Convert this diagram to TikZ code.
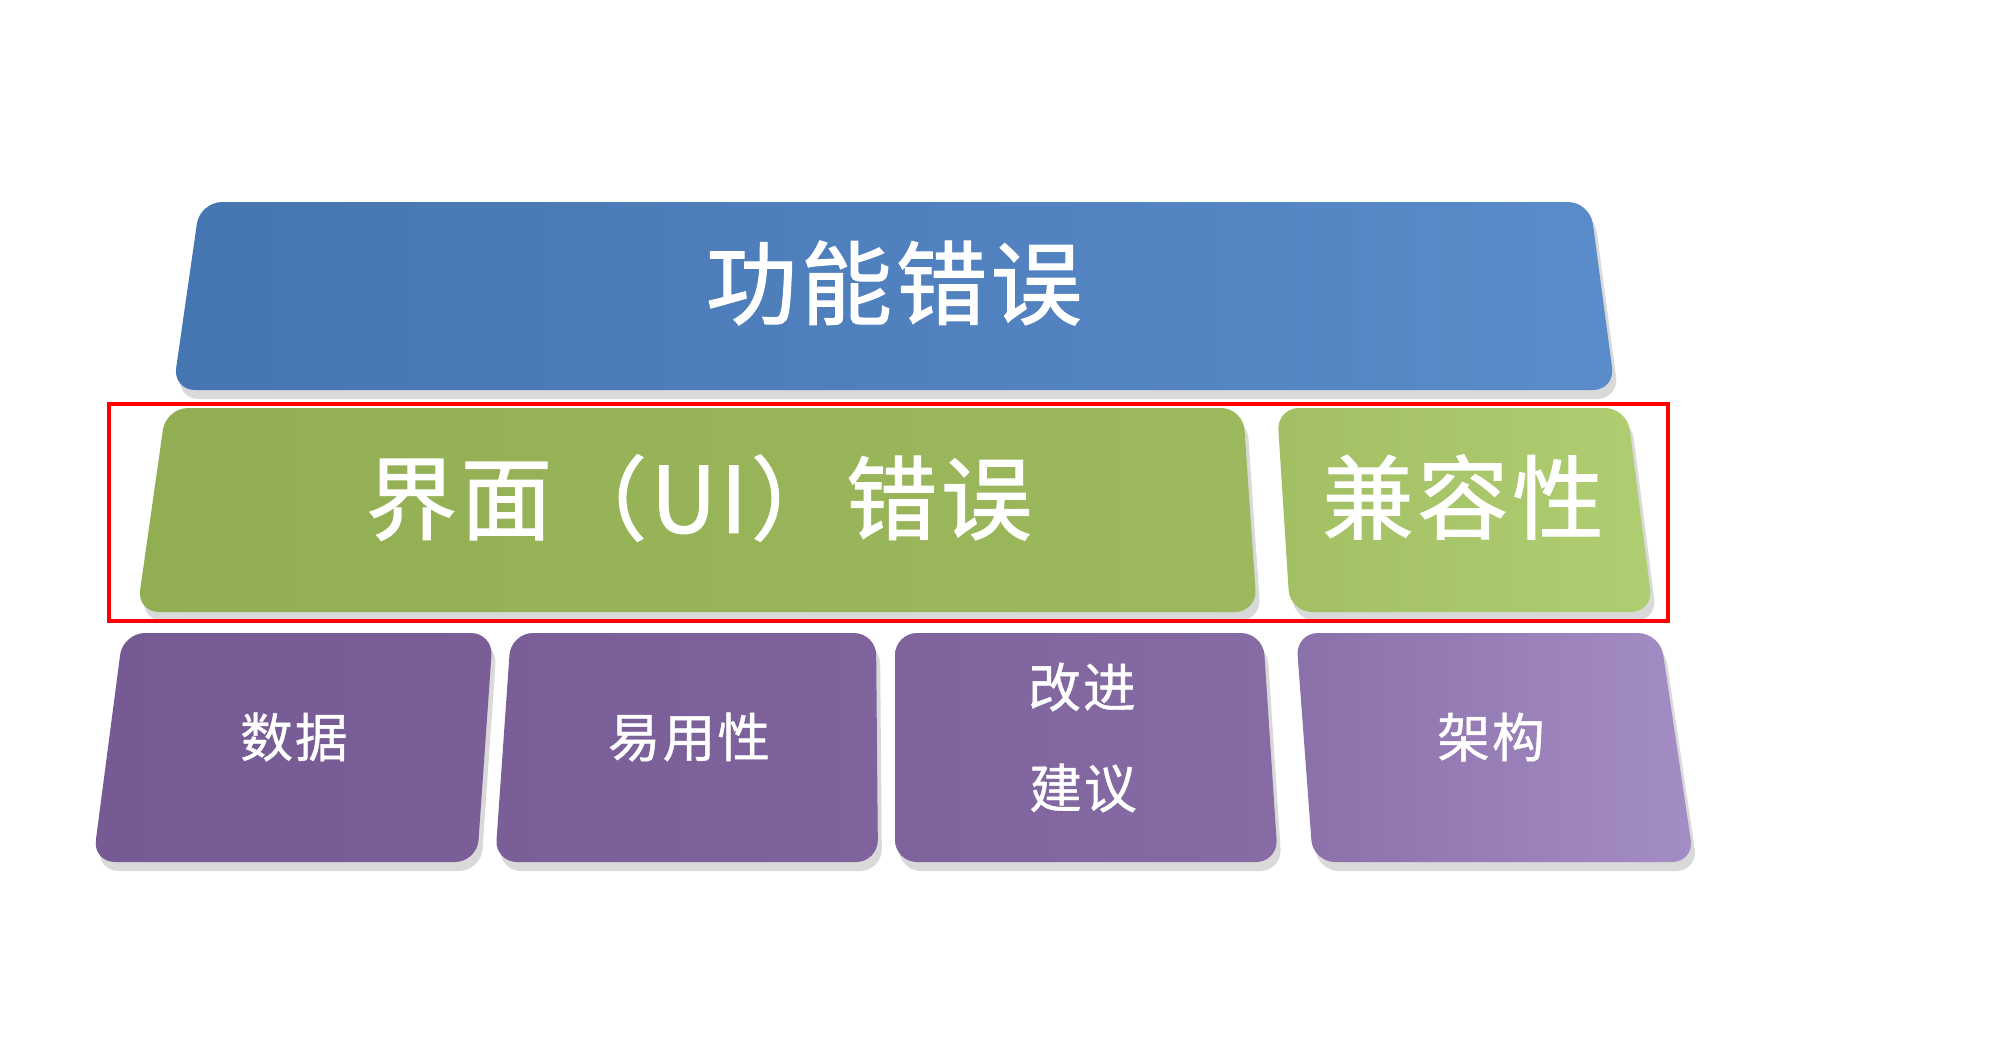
\documentclass[tikz,border=0pt]{standalone}
\usepackage{fontspec}
\setmainfont{Noto Sans CJK SC}
\usetikzlibrary{shadows}
\definecolor{blueL}{HTML}{4676B1}
\definecolor{blueR}{HTML}{5A8BCA}
\definecolor{greenL}{HTML}{92AE53}
\definecolor{greenR}{HTML}{AFCD71}
\definecolor{purpL}{HTML}{765A94}
\definecolor{purpR}{HTML}{A48CC4}

\begin{document}
\begin{tikzpicture}[slab/.style={rounded corners=2.2mm,drop shadow={opacity=0.3,shadow xshift=0.4mm,shadow yshift=-0.9mm}},
  bluebox/.style={slab,left color=blueL,right color=blueR},
  greenbox/.style={slab,left color=#1},
  purpbox/.style={slab,left color=#1},
  big/.style={text=white,font=\fontsize{26}{30}\selectfont\addfontfeatures{LetterSpace=4,FakeBold=1.2}},
  small/.style={text=white,font=\fontsize{15}{18}\selectfont\addfontfeatures{LetterSpace=4,FakeBold=0.8},align=center}]
\useasboundingbox (0,0) rectangle (20.02,-10.58);
% top layer
\path[bluebox] (2.00,-2.02)--(15.90,-2.02)--(16.15,-3.90)--(1.73,-3.90)--cycle;
% middle layer
\path[greenbox=greenL,right color=greenL!65!greenR] (1.66,-4.08)--(12.43,-4.08)--(12.57,-6.12)--(1.37,-6.12)--cycle;
\path[greenbox=greenL!45!greenR,right color=greenR] (12.77,-4.08)--(16.27,-4.08)--(16.53,-6.12)--(12.90,-6.12)--cycle;
% bottom layer
\path[purpbox=purpL,right color=purpL!92!purpR] (1.23,-6.33)--(4.93,-6.33)--(4.77,-8.62)--(0.93,-8.62)--cycle;
\path[purpbox=purpL!92!purpR,right color=purpL!82!purpR] (5.11,-6.33)--(8.76,-6.33)--(8.78,-8.62)--(4.95,-8.62)--cycle;
\path[purpbox=purpL!82!purpR,right color=purpL!65!purpR] (8.95,-6.33)--(12.63,-6.33)--(12.78,-8.62)--(8.95,-8.62)--cycle;
\path[purpbox=purpL!55!purpR,right color=purpR] (12.96,-6.33)--(16.60,-6.33)--(16.94,-8.62)--(13.13,-8.62)--cycle;
% labels
\node[big] (funcerr) at (8.94,-2.83) {功能错误};
\node[big] (uierr) at (6.99,-4.98) {界面（UI）错误};
\node[big] (compat) at (14.63,-4.97) {兼容性};
\node[small] (data) at (2.94,-7.37) {数据};
\node[small] (usab) at (6.89,-7.37) {易用性};
\node[small] (sugg1) at (10.82,-6.87) {改进};
\node[small] (sugg2) at (10.83,-7.88) {建议};
\node[small] (arch) at (14.91,-7.37) {架构};
% highlight frame
\draw[red,line width=1pt] (1.09,-4.04) rectangle (16.68,-6.21);
\end{tikzpicture}
\end{document}
